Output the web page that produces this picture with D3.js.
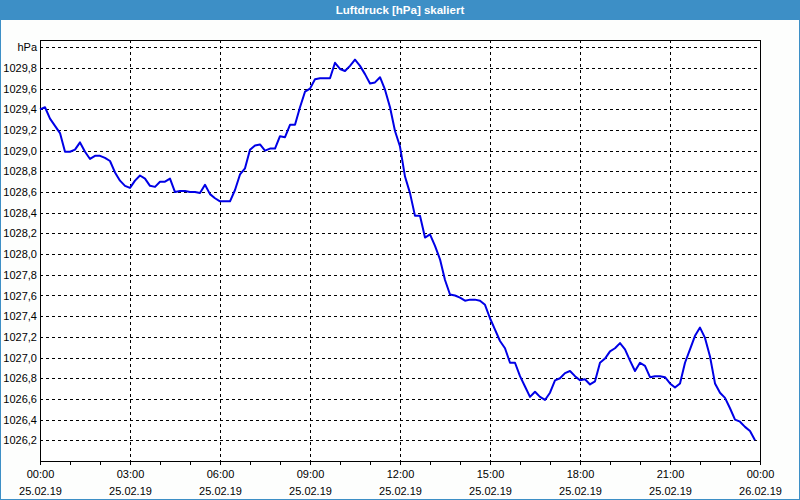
<!DOCTYPE html>
<html>
<head>
<meta charset="utf-8">
<script src="https://cdn.jsdelivr.net/npm/d3@7"></script>
<style>
  body { margin: 0; background: #fdfefd; }
</style>
</head>
<body>
<script>
// Luftdruck, 10-Minuten-Werte vom 25.02.19
let times = [
  "00:00","00:10","00:20","00:30","00:40","00:50","01:00","01:10","01:20","01:30","01:40","01:50",
  "02:00","02:10","02:20","02:30","02:40","02:50","03:00","03:10","03:20","03:30","03:40","03:50",
  "04:00","04:10","04:20","04:30","04:40","04:50","05:00","05:10","05:20","05:30","05:40","05:50",
  "06:00","06:10","06:20","06:30","06:40","06:50","07:00","07:10","07:20","07:30","07:40","07:50",
  "08:00","08:10","08:20","08:30","08:40","08:50","09:00","09:10","09:20","09:30","09:40","09:50",
  "10:00","10:10","10:20","10:30","10:40","10:50","11:00","11:10","11:20","11:30","11:40","11:50",
  "12:00","12:10","12:20","12:30","12:40","12:50","13:00","13:10","13:20","13:30","13:40","13:50",
  "14:00","14:10","14:20","14:30","14:40","14:50","15:00","15:10","15:20","15:30","15:40","15:50",
  "16:00","16:10","16:20","16:30","16:40","16:50","17:00","17:10","17:20","17:30","17:40","17:50",
  "18:00","18:10","18:20","18:30","18:40","18:50","19:00","19:10","19:20","19:30","19:40","19:50",
  "20:00","20:10","20:20","20:30","20:40","20:50","21:00","21:10","21:20","21:30","21:40","21:50",
  "22:00","22:10","22:20","22:30","22:40","22:50","23:00","23:10","23:20","23:30","23:40","23:50"
];

let pressure = [
  1029.40, 1029.42, 1029.31, 1029.24, 1029.17, 1028.99, 1028.99, 1029.01, 1029.08, 1028.99, 1028.92, 1028.95,
  1028.95, 1028.93, 1028.90, 1028.79, 1028.71, 1028.66, 1028.64, 1028.71, 1028.76, 1028.73, 1028.66, 1028.65,
  1028.70, 1028.70, 1028.73, 1028.60, 1028.61, 1028.61, 1028.60, 1028.60, 1028.59, 1028.67, 1028.58, 1028.54,
  1028.51, 1028.51, 1028.51, 1028.62, 1028.77, 1028.83, 1029.01, 1029.05, 1029.06, 1029.00, 1029.02, 1029.02,
  1029.14, 1029.13, 1029.25, 1029.25, 1029.42, 1029.57, 1029.60, 1029.69, 1029.70, 1029.70, 1029.70, 1029.85,
  1029.79, 1029.77, 1029.82, 1029.88, 1029.82, 1029.74, 1029.65, 1029.66, 1029.71, 1029.59, 1029.42, 1029.19,
  1029.04, 1028.75, 1028.59, 1028.37, 1028.37, 1028.16, 1028.19, 1028.08, 1027.95, 1027.75, 1027.61, 1027.60,
  1027.58, 1027.55, 1027.56, 1027.56, 1027.55, 1027.51, 1027.38, 1027.27, 1027.16, 1027.09, 1026.95, 1026.95,
  1026.82, 1026.72, 1026.62, 1026.67, 1026.62, 1026.59, 1026.66, 1026.78, 1026.80, 1026.85, 1026.87, 1026.82,
  1026.78, 1026.79, 1026.74, 1026.77, 1026.95, 1026.99, 1027.06, 1027.09, 1027.14, 1027.08, 1026.97, 1026.87,
  1026.95, 1026.92, 1026.81, 1026.82, 1026.82, 1026.81, 1026.75, 1026.71, 1026.75, 1026.95, 1027.08, 1027.21,
  1027.29, 1027.19, 1027.01, 1026.75, 1026.66, 1026.61, 1026.51, 1026.40, 1026.38, 1026.33, 1026.29, 1026.20
];

let yTicks = [1026.2, 1026.4, 1026.6, 1026.8, 1027.0, 1027.2, 1027.4, 1027.6, 1027.8, 1028.0,
              1028.2, 1028.4, 1028.6, 1028.8, 1029.0, 1029.2, 1029.4, 1029.6, 1029.8, 1030.0];

let xTicks = ["2019-02-25T00:00", "2019-02-25T03:00", "2019-02-25T06:00", "2019-02-25T09:00",
              "2019-02-25T12:00", "2019-02-25T15:00", "2019-02-25T18:00", "2019-02-25T21:00",
              "2019-02-26T00:00"];

let day = "2019-02-25";
let titleText = "Luftdruck [hPa] skaliert";

let canvasW = 800;
let canvasH = 500;
let plotLeft = 40, plotRight = 760, plotTop = 40, plotBottom = 461;
let blue = "#3d8fc6";

let parse = d3.timeParse("%Y-%m-%dT%H:%M");
let data = times.map((t, i) => ({ date: parse(day + "T" + t), value: pressure[i] }));
let xTickDates = xTicks.map(parse);

let de = d3.formatLocale({ decimal: ",", thousands: ".", grouping: [3], currency: ["", " €"] });
let fmt = de.format(".1f");

let svg = d3.select("body").append("svg")
  .attr("width", canvasW)
  .attr("height", canvasH)
  .style("display", "block");

// Titelleiste
svg.append("rect")
  .attr("x", 0).attr("y", 0)
  .attr("width", canvasW).attr("height", 20)
  .attr("fill", blue);

svg.append("text")
  .attr("x", canvasW / 2)
  .attr("y", 14)
  .attr("text-anchor", "middle")
  .attr("font-family", "Liberation Sans, sans-serif")
  .attr("font-weight", "bold")
  .attr("font-size", "11.5px")
  .attr("fill", "#ffffff")
  .text(titleText);

// Rahmen
svg.append("rect")
  .attr("x", 0.5).attr("y", 0.5)
  .attr("width", canvasW - 1).attr("height", canvasH - 1)
  .attr("fill", "none")
  .attr("stroke", blue);

let x = d3.scaleTime()
  .domain([xTickDates[0], xTickDates[xTickDates.length - 1]])
  .range([plotLeft, plotRight]);

let y = d3.scaleLinear()
  .domain([1026.0, 1030.07])
  .range([plotBottom, plotTop]);

// Plotfläche
svg.append("rect")
  .attr("x", plotLeft).attr("y", plotTop)
  .attr("width", plotRight - plotLeft).attr("height", plotBottom - plotTop)
  .attr("fill", "#ffffff");

// Gitter horizontal
svg.append("g")
  .selectAll("line")
  .data(yTicks)
  .enter().append("line")
    .attr("x1", plotLeft).attr("x2", plotRight)
    .attr("y1", d => Math.round(y(d)) + 0.5)
    .attr("y2", d => Math.round(y(d)) + 0.5)
    .attr("stroke", "#000")
    .attr("stroke-dasharray", "3,3");

// Gitter vertikal
svg.append("g")
  .selectAll("line")
  .data(xTickDates.slice(1, -1))
  .enter().append("line")
    .attr("x1", d => Math.round(x(d)) + 0.5)
    .attr("x2", d => Math.round(x(d)) + 0.5)
    .attr("y1", plotTop).attr("y2", plotBottom)
    .attr("stroke", "#000")
    .attr("stroke-dasharray", "3,3");

// y-Achse Beschriftung
let yAxis = d3.axisLeft(y)
  .tickValues(yTicks)
  .tickSize(0)
  .tickPadding(3)
  .tickFormat(d => Math.abs(d - 1030) < 1e-6 ? "hPa" : fmt(d));

svg.append("g")
  .attr("transform", `translate(${plotLeft},0)`)
  .call(yAxis)
  .call(g => g.select(".domain").remove())
  .selectAll("text")
    .attr("font-family", "Liberation Sans, sans-serif")
    .attr("font-size", "11px")
    .attr("fill", "#000");

// x-Achse: Stundenstriche
let xMinor = d3.axisBottom(x)
  .ticks(d3.timeHour.every(1))
  .tickSize(4)
  .tickFormat("");

svg.append("g")
  .attr("transform", `translate(0,${plotBottom})`)
  .call(xMinor)
  .call(g => g.select(".domain").remove());

// x-Achse: Beschriftung
let xAxis = d3.axisBottom(x)
  .tickValues(xTickDates)
  .tickSize(4)
  .tickFormat("");

let xg = svg.append("g")
  .attr("transform", `translate(0,${plotBottom})`)
  .call(xAxis)
  .call(g => g.select(".domain").remove());

let labels = xg.selectAll(".tick").append("text")
  .attr("text-anchor", "middle")
  .attr("font-family", "Liberation Sans, sans-serif")
  .attr("font-size", "11px")
  .attr("fill", "#000");

labels.append("tspan")
  .attr("x", 0).attr("y", 17)
  .text(d => d3.timeFormat("%H:%M")(d));

labels.append("tspan")
  .attr("x", 0).attr("y", 34)
  .text(d => d3.timeFormat("%d.%m.%y")(d));

// Rahmen Plotfläche
svg.append("rect")
  .attr("x", plotLeft + 0.5).attr("y", plotTop + 0.5)
  .attr("width", plotRight - plotLeft).attr("height", plotBottom - plotTop)
  .attr("fill", "none")
  .attr("stroke", "#000");

// Kurve
let line = d3.line()
  .x(d => x(d.date))
  .y(d => y(d.value));

svg.append("path")
  .datum(data)
  .attr("fill", "none")
  .attr("stroke", "#0000e6")
  .attr("stroke-width", 2)
  .attr("stroke-linejoin", "round")
  .attr("d", line);
</script>
</body>
</html>
